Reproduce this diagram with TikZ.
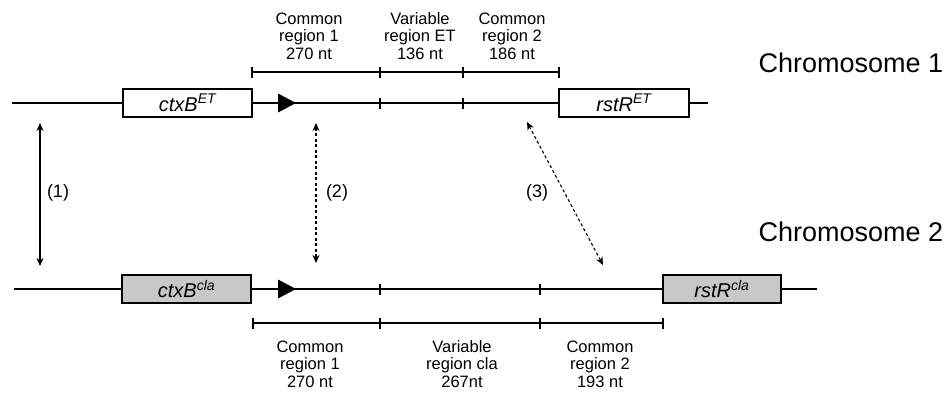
\documentclass[tikz,border=0pt]{standalone}
\usepackage{fontspec}
\setmainfont{Liberation Sans}
\usetikzlibrary{arrows.meta}
\begin{document}
\begin{tikzpicture}[x=1pt,y=-1pt, line width=1.2pt,
  gene/.style={draw, minimum height=28pt, inner sep=0pt, font=\fontsize{20}{22}\selectfont\itshape},
  lbl/.style={align=center, font=\fontsize{16.5}{17.5}\selectfont},
  chrom/.style={anchor=west, inner sep=0pt, font=\fontsize{27}{29}\selectfont},
  num/.style={inner sep=0pt, font=\fontsize{18}{19}\selectfont},
  tick/.style={line width=1.2pt},
  link/.style={{Stealth[length=8pt,width=7pt]}-{Stealth[length=8pt,width=7pt]}, line width=1.1pt},
  dlink/.style={link, dash pattern=on 3pt off 2.5pt},
  ptri/.style={fill=black}
]
\useasboundingbox (0,0) rectangle (948,392);

% ---------- Chromosome 1 ----------
\coordinate (c1s) at (12,103);
\coordinate (c1e) at (708,103);
\node[gene, minimum width=129pt] (ctx1) at (187.5,103) {ctxB\textsuperscript{ET}};
\node[gene, minimum width=130pt] (rst1) at (624,103) {rstR\textsuperscript{ET}};
\draw (c1s) -- (ctx1.west);
\draw (ctx1.east) -- (rst1.west);
\draw (rst1.east) -- (c1e);
\fill[ptri] (278,93.5) -- (296,103) -- (278,112.5) -- cycle;
\coordinate (k1a) at (380,103);
\coordinate (k1b) at (463,103);
\draw[tick] (k1a) ++(0,-5.5) -- ++(0,11);
\draw[tick] (k1b) ++(0,-5.5) -- ++(0,11);

% top bracket
\coordinate (b1a) at (252,72);
\coordinate (b1b) at (380,72);
\coordinate (b1c) at (463,72);
\coordinate (b1d) at (559,72);
\draw (b1a) -- (b1d);
\foreach \p in {b1a,b1b,b1c,b1d} \draw[tick] (\p) ++(0,-5.5) -- ++(0,11);

\node[lbl] (t1) at (309,36) {Common\\region 1\\270 nt};
\node[lbl] (t2) at (420,36) {Variable\\region ET\\136 nt};
\node[lbl] (t3) at (512,36) {Common\\region 2\\186 nt};

\node[chrom] (ch1) at (758,63) {Chromosome 1};

% ---------- Chromosome 2 ----------
\coordinate (c2s) at (14,289);
\coordinate (c2e) at (817,289);
\node[gene, minimum width=129pt, fill={rgb,255:red,200;green,200;blue,200}] (ctx2) at (186.5,289) {ctxB\textsuperscript{cla}};
\node[gene, minimum width=118pt, fill={rgb,255:red,200;green,200;blue,200}] (rst2) at (722,289) {rstR\textsuperscript{cla}};
\draw (c2s) -- (ctx2.west);
\draw (ctx2.east) -- (rst2.west);
\draw (rst2.east) -- (c2e);
\fill[ptri] (278,279.5) -- (296,289) -- (278,298.5) -- cycle;
\coordinate (k2a) at (380,289);
\coordinate (k2b) at (540,289);
\draw[tick] (k2a) ++(0,-5.5) -- ++(0,11);
\draw[tick] (k2b) ++(0,-5.5) -- ++(0,11);

% bottom bracket
\coordinate (b2a) at (253,323);
\coordinate (b2b) at (380,323);
\coordinate (b2c) at (540,323);
\coordinate (b2d) at (663,323);
\draw (b2a) -- (b2d);
\foreach \p in {b2a,b2b,b2c,b2d} \draw[tick] (\p) ++(0,-5.5) -- ++(0,11);

\node[lbl] (u1) at (310,364) {Common\\region 1\\270 nt};
\node[lbl] (u2) at (462,364) {Variable\\region cla\\267nt};
\node[lbl] (u3) at (600,364) {Common\\region 2\\193 nt};

\node[chrom] (ch2) at (758,232) {Chromosome 2};

% ---------- links ----------
\coordinate (a1t) at (40,123);
\coordinate (a1b) at (40,266);
\draw[link] (a1t) -- (a1b);
\node[num] (n1) at (58,193) {(1)};

\coordinate (a2t) at (316,123);
\coordinate (a2b) at (316,263);
\draw[dlink] (a2t) -- (a2b);
\node[num] (n2) at (337,193) {(2)};

\coordinate (a3t) at (527,122);
\coordinate (a3b) at (603,265);
\draw[dlink] (a3t) -- (a3b);
\node[num] (n3) at (537,193) {(3)};
\end{tikzpicture}
\end{document}
